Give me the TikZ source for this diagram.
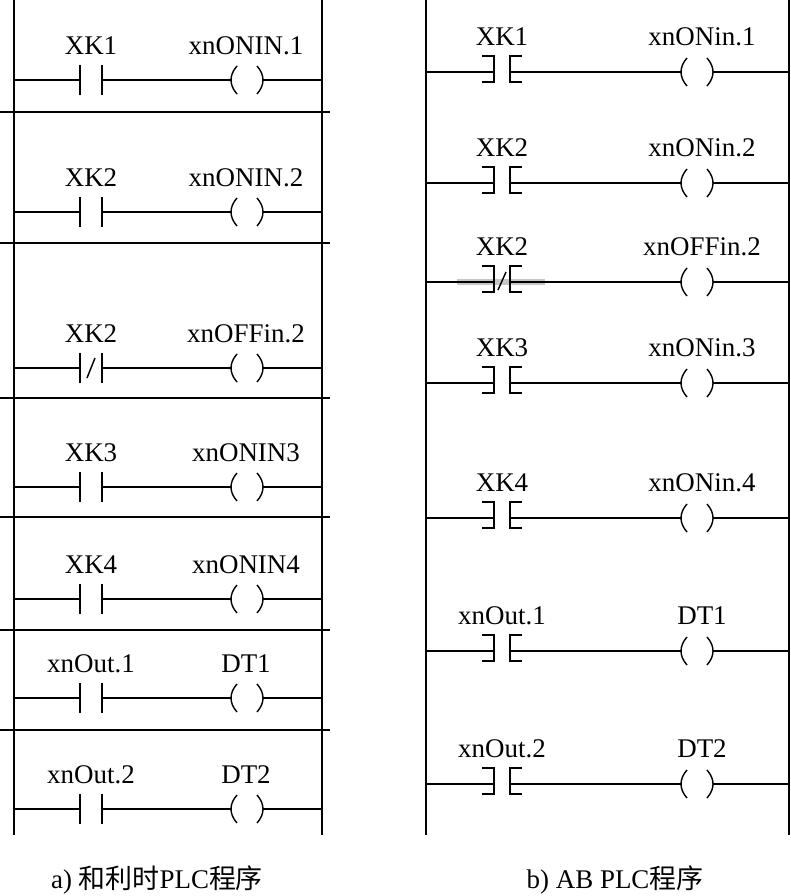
\documentclass[tikz,border=0pt]{standalone}
\usepackage{fontspec}
\setmainfont{Liberation Serif}
\newfontfamily\cjk{Noto Sans CJK SC}
\usetikzlibrary{positioning}
\usetikzlibrary{calc}

\tikzset{
  wire/.style={line width=1.2pt},
  lbl/.style={font=\fontsize{23}{27}\selectfont, inner sep=0pt},
  captext/.style={font=\fontsize{23}{27}\selectfont, inner sep=0pt}
}

\begin{document}
\begin{tikzpicture}[x=0.03cm, y=-0.03cm]
  \useasboundingbox (0,0) rectangle (791,896);

  % Left program: rails and separators
  \coordinate (aTop) at (14,0);   \coordinate (aBot) at (14,835);
  \coordinate (aRTop) at (322,0); \coordinate (aRBot) at (322,835);
  \draw[wire] (aTop) -- (aBot);
  \draw[wire] (aRTop) -- (aRBot);
  \foreach \s in {112,243,398,517,630,730}
    \draw[line width=1pt] (0,\s) -- (330,\s);

  % Left rungs
  \foreach \y/\c/\q/\nc in {80/XK1/xnONIN.1/0, 212/XK2/xnONIN.2/0, 368/XK2/xnOFFin.2/1,
                            487/XK3/xnONIN3/0, 599/XK4/xnONIN4/0, 698/xnOut.1/DT1/0, 809/xnOut.2/DT2/0} {
    \coordinate (aL\y) at (14,\y);
    \coordinate (aR\y) at (322,\y);
    \draw[wire] (aL\y) -- (80,\y);
    \draw[wire] (80,\y-15) -- (80,\y+15);
    \draw[wire] (102,\y-15) -- (102,\y+15);
    \draw[wire] (102,\y) -- (232,\y);
    \draw[wire] (237,\y-14) .. controls (229,\y-5) and (229,\y+5) .. (237,\y+14);
    \draw[wire] (257,\y-14) .. controls (265,\y-5) and (265,\y+5) .. (257,\y+14);
    \draw[wire] (263,\y) -- (aR\y);
    \ifnum\nc=1 \draw[wire] (87,\y+10) -- (95,\y-10); \fi
    \node[lbl] (aC\y) at (91,\y-34) {\c};
    \node[lbl] (aQ\y) at (246,\y-34) {\q};
  }

  % Right program: rails
  \coordinate (bTop) at (426,0);  \coordinate (bBot) at (426,835);
  \coordinate (bRTop) at (789,0); \coordinate (bRBot) at (789,835);
  \draw[wire] (bTop) -- (bBot);
  \draw[wire] (bRTop) -- (bRBot);

  % Gray mark on the closed-contact rung
  \draw[line width=5pt, gray!45] (457,282) -- (545,282);

  % Right rungs
  \foreach \y/\c/\q/\nc in {72/XK1/xnONin.1/0, 183/XK2/xnONin.2/0, 282/XK2/xnOFFin.2/1,
                            383/XK3/xnONin.3/0, 518/XK4/xnONin.4/0, 651/xnOut.1/DT1/0, 784/xnOut.2/DT2/0} {
    \coordinate (bL\y) at (426,\y);
    \coordinate (bR\y) at (789,\y);
    \draw[wire] (bL\y) -- (494,\y);
    \draw[wire] (482,\y-16) -- (494,\y-16) -- (494,\y+10) -- (482,\y+10);
    \draw[wire] (522,\y-16) -- (510,\y-16) -- (510,\y+10) -- (522,\y+10);
    \draw[wire] (510,\y) -- (682,\y);
    \draw[wire] (687,\y-14) .. controls (679,\y-5) and (679,\y+5) .. (687,\y+14);
    \draw[wire] (707,\y-14) .. controls (715,\y-5) and (715,\y+5) .. (707,\y+14);
    \draw[wire] (713,\y) -- (bR\y);
    \ifnum\nc=1 \draw[wire] (498,\y+8) -- (506,\y-10); \fi
    \node[lbl] (bC\y) at (502,\y-35) {\c};
    \node[lbl] (bQ\y) at (702,\y-35) {\q};
  }

  % Captions
  \node[captext] (capA) at (157,880) {a) {\cjk 和利时}PLC{\cjk 程序}};
  \node[captext] (capB) at (615,880) {b) AB PLC{\cjk 程序}};
\end{tikzpicture}
\end{document}
